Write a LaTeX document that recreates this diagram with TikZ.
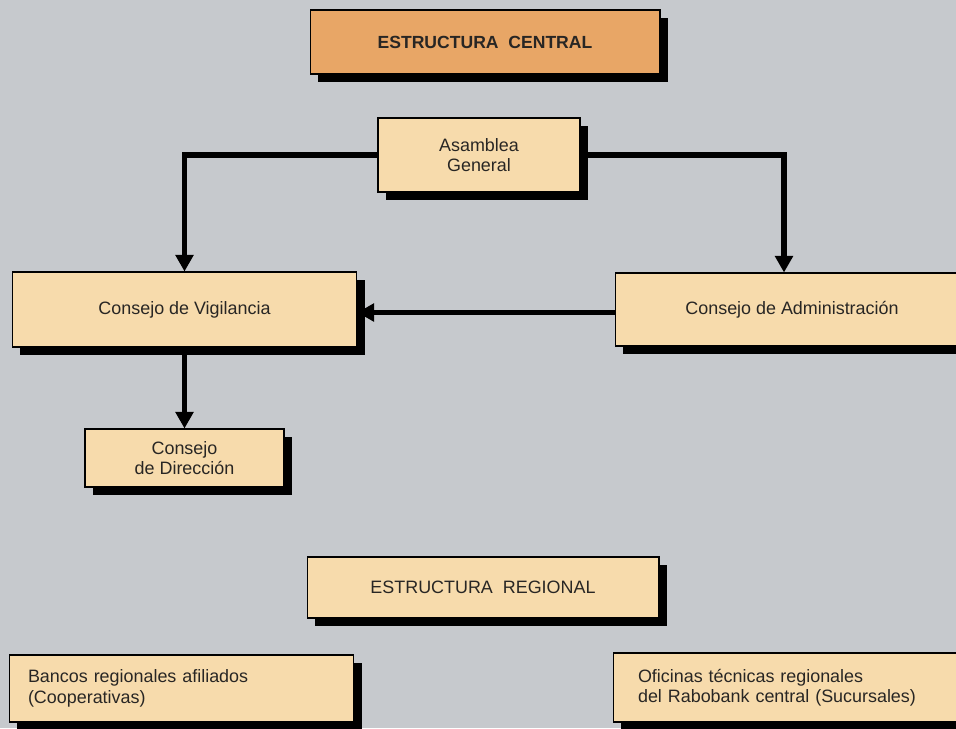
\documentclass[tikz,border=0pt]{standalone}
\usepackage{fontspec}
\setmainfont{Liberation Sans}
\usetikzlibrary{arrows.meta,shadows}
\definecolor{bggrey}{RGB}{198,201,205}
\definecolor{peach}{RGB}{247,219,172}
\definecolor{orangebox}{RGB}{232,166,102}
\definecolor{inkgrey}{RGB}{40,38,36}
\tikzset{
    organ/.style={draw=black,line width=0.6pt,fill=peach,text=inkgrey,
        font=\fontsize{10.2}{11.6}\selectfont,align=center,inner sep=0pt,
        drop shadow={shadow xshift=0.16cm,shadow yshift=-0.16cm,opacity=1,fill=black}},
    title/.style={organ,fill=orangebox,font=\fontsize{10}{11.6}\selectfont\bfseries},
    leftorgan/.style={organ,align=left,inner xsep=0.38cm},
    link/.style={line width=3.1pt,-{Triangle[length=9.5pt,width=10pt]}}
}

\begin{document}
\begin{tikzpicture}[x=0.02cm,y=-0.02cm]
    \fill[bggrey] (0,0) rectangle (956,728);
    \useasboundingbox (0,0) rectangle (956,728);
    \clip (0,0) rectangle (956,728);
    \node[title,minimum width=7cm,minimum height=1.28cm] (central) at (485,42) {ESTRUCTURA~~CENTRAL};
    \node[organ,minimum width=4.04cm,minimum height=1.48cm] (asam) at (479,155) {Asamblea\\General};
    \node[organ,minimum width=6.9cm,minimum height=1.5cm] (vig) at (184.5,309.5) {Consejo de Vigilancia};
    \node[organ,minimum width=7.08cm,minimum height=1.46cm] (adm) at (792,309.5) {Consejo de Administración};
    \node[organ,minimum width=3.98cm,minimum height=1.16cm] (dir) at (184.5,458) {Consejo\\de Dirección};
    \node[organ,minimum width=7.04cm,minimum height=1.22cm] (reg) at (483,587.5) {ESTRUCTURA~~REGIONAL};
    \node[leftorgan,text width=6.14cm,minimum height=1.34cm] (banc) at (181.5,688.5) {Bancos regionales afiliados\\(Cooperativas)};
    \node[leftorgan,inner xsep=0.5cm,text width=6.14cm,minimum height=1.38cm] (ofi) at (791.5,687.5) {Oficinas técnicas regionales\\del Rabobank central (Sucursales)};
    \draw[link] (asam.west) -| (vig.north);
    \draw[link] (asam.east) -| ([xshift=-0.16cm]adm.north);
    \draw[link] ([yshift=-0.06cm]adm.west) -- ([yshift=-0.06cm]vig.east);
    \draw[link] (vig.south) -- (dir.north);
\end{tikzpicture}
\end{document}
